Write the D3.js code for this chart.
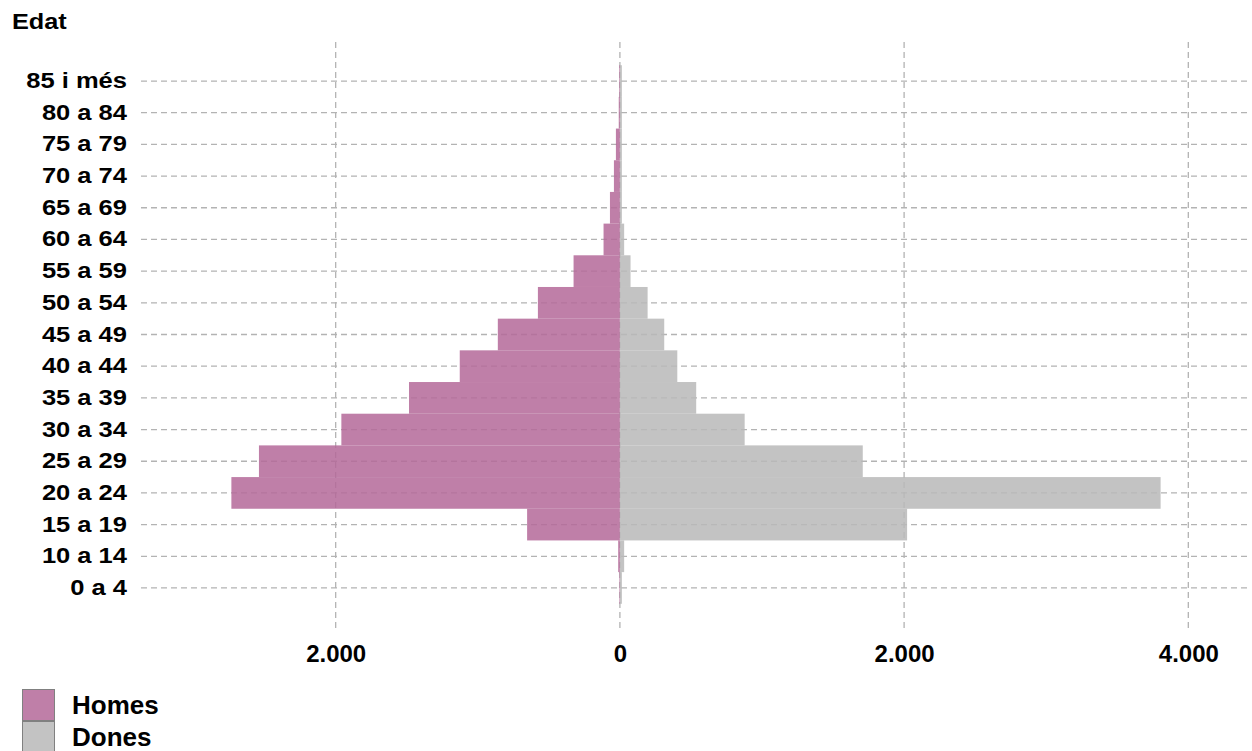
<!DOCTYPE html>
<html>
<head>
<meta charset="utf-8">
<script src="https://cdn.jsdelivr.net/npm/d3@7"></script>
<style>
  html, body { margin: 0; padding: 0; background: #fff; }
  svg { display: block; font-family: "Liberation Sans", Arial, sans-serif; }
</style>
</head>
<body>
<svg id="chart" width="1252" height="751"></svg>
<script>
// ---- data ----
const ageGroups = ["85 i més", "80 a 84", "75 a 79", "70 a 74", "65 a 69", "60 a 64", "55 a 59",
  "50 a 54", "45 a 49", "40 a 44", "35 a 39", "30 a 34", "25 a 29", "20 a 24", "15 a 19", "10 a 14", "0 a 4"];
const homes = [5, 8, 28, 42, 70, 115, 326, 577, 859, 1127, 1484, 1960, 2540, 2734, 653, 12, 4];
const dones = [14, 14, 14, 14, 14, 30, 75, 195, 312, 404, 537, 878, 1709, 3805, 2021, 30, 14];
const xTicks = [-2000, 0, 2000, 4000];
const seriesNames = ["Homes", "Dones"];
const seriesColors = ["#b46899", "#b8b8b8"];
const axisTitle = "Edat";

// ---- layout ----
const svg = d3.select("#chart");
const plot = { left: 141, right: 1250, top: 42, bottom: 630 };

const x = d3.scaleLinear().domain([-3370, 4420]).range([141, 1248]);
const y = d3.scaleBand().domain(ageGroups).range([65.2, 603.8]).padding(0);

const locale = d3.formatLocale({ decimal: ",", thousands: ".", grouping: [3], currency: ["", "€"] });
const fmt = locale.format(",d");

// gridlines (below bars)
const grid = svg.append("g").attr("stroke", "#b3b3b3").attr("stroke-width", 1.3).attr("stroke-dasharray", "6,4");
grid.selectAll("line.h").data(ageGroups).join("line")
  .attr("class", "h")
  .attr("x1", plot.left).attr("x2", plot.right)
  .attr("y1", d => y(d) + y.bandwidth() / 2).attr("y2", d => y(d) + y.bandwidth() / 2);
grid.selectAll("line.v").data(xTicks).join("line")
  .attr("class", "v")
  .attr("x1", d => x(d)).attr("x2", d => x(d))
  .attr("y1", plot.top).attr("y2", plot.bottom);

// bars
const bars = svg.append("g").attr("fill-opacity", 0.85);
bars.selectAll("rect.homes").data(ageGroups).join("rect")
  .attr("class", "homes")
  .attr("fill", seriesColors[0])
  .attr("x", (d, i) => x(-homes[i]))
  .attr("width", (d, i) => x(0) - x(-homes[i]))
  .attr("y", d => y(d))
  .attr("height", y.bandwidth());
bars.selectAll("rect.dones").data(ageGroups).join("rect")
  .attr("class", "dones")
  .attr("fill", seriesColors[1])
  .attr("x", x(0))
  .attr("width", (d, i) => x(dones[i]) - x(0))
  .attr("y", d => y(d))
  .attr("height", y.bandwidth());

// y axis labels
const yAxis = svg.append("g").attr("transform", `translate(${plot.left},0)`)
  .call(d3.axisLeft(y).tickSize(0).tickPadding(14));
yAxis.select(".domain").remove();
yAxis.selectAll("text").attr("font-size", 22).attr("font-weight", "bold").attr("fill", "#000")
  .attr("font-family", "Liberation Sans, Arial, sans-serif")
  .attr("x", 0).attr("transform", "translate(-14,0) scale(1.16,1)");

// x axis labels
const xAxis = svg.append("g").attr("transform", `translate(0,${plot.bottom})`)
  .call(d3.axisBottom(x).tickValues(xTicks).tickSize(0).tickPadding(15).tickFormat(d => fmt(Math.abs(d))));
xAxis.select(".domain").remove();
xAxis.selectAll("text").attr("font-size", 24).attr("font-weight", "bold").attr("fill", "#000")
  .attr("font-family", "Liberation Sans, Arial, sans-serif");

// axis title
svg.append("text").attr("transform", "translate(12,29) scale(1.15,1)").text(axisTitle)
  .attr("font-size", 22).attr("font-weight", "bold").attr("fill", "#000");

// legend
const legend = svg.append("g").attr("transform", "translate(22,689)");
seriesNames.forEach((name, i) => {
  const g = legend.append("g").attr("transform", `translate(0,${i * 32})`);
  g.append("rect").attr("x", 0.5).attr("y", 0.5).attr("width", 32).attr("height", 31)
    .attr("fill", seriesColors[i]).attr("fill-opacity", 0.85).attr("stroke", "#808080").attr("stroke-width", 1);
  g.append("text").attr("x", 50).attr("y", 25).text(name)
    .attr("font-size", 26).attr("font-weight", "bold").attr("fill", "#000");
});
</script>
</body>
</html>
